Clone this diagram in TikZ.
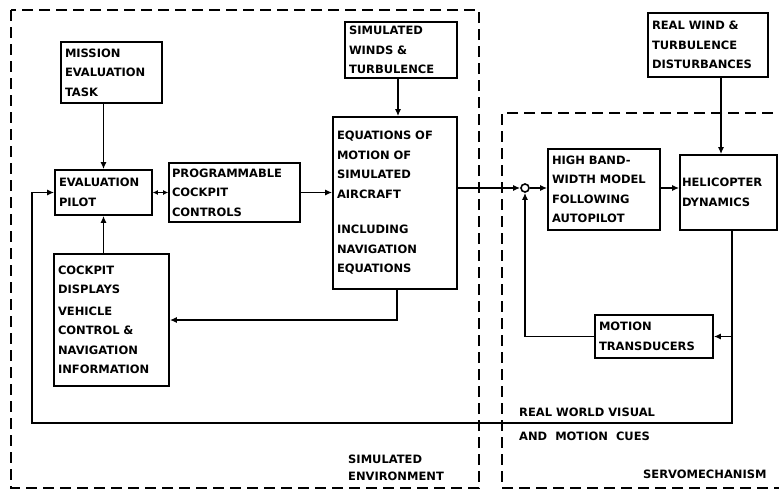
\documentclass[tikz,border=0pt]{standalone}
\usepackage{fontspec}
\newfontfamily\blkfont{DejaVu Sans}
\usetikzlibrary{arrows.meta}
\begin{document}
\begin{tikzpicture}[x=1pt,y=-1pt]
	\tikzstyle{blk}=[draw,line width=1.7pt,inner sep=4pt,align=left,font=\fontsize{11.5}{19.5}\selectfont\blkfont\bfseries]
	\tikzstyle{lbl}=[inner sep=0pt,anchor=north west,align=left,font=\fontsize{11.5}{19.5}\selectfont\blkfont\bfseries]
	\tikzstyle{arr}=[line width=1.6pt,-{Latex[length=7pt,width=6pt]}]
	\tikzstyle{zone}=[line width=1.6pt,dash pattern=on 11pt off 6pt]
	\useasboundingbox (0,0) rectangle (779,490);
	\draw[zone] (11,10) rectangle (479,488);
	\draw[zone] (790,113) -- (502,113) -- (502,488) -- (790,488);
	\node[blk,text width=93pt,minimum height=61pt] (mission) at (111.5,72.5) {MISSION\\EVALUATION\\TASK};
	\node[blk,text width=89pt,minimum height=45pt] (pilot) at (103.5,192.5) {EVALUATION\\ PILOT};
	\node[blk,text width=125pt,minimum height=59pt,inner sep=3pt] (prog) at (234.5,192.5) {PROGRAMMABLE\\COCKPIT\\CONTROLS};
	\node[blk,text width=104pt,minimum height=56pt] (winds) at (401,50) {SIMULATED\\WINDS \& \\TURBULENCE};
	\node[blk,text width=116pt,minimum height=172pt] (eqns) at (395,203) {EQUATIONS OF\\MOTION OF\\SIMULATED\\AIRCRAFT\\[16pt]INCLUDING\\NAVIGATION\\EQUATIONS};
	\node[blk,text width=107pt,minimum height=132pt] (displays) at (111.5,320) {COCKPIT\\DISPLAYS\\[2pt] VEHICLE\\CONTROL \&\\NAVIGATION\\INFORMATION};
	\node[blk,text width=112pt,minimum height=64pt] (realwind) at (708,45) {REAL WIND \&\\TURBULENCE\\DISTURBANCES};
	\node[blk,text width=104pt,minimum height=81pt] (hiband) at (604,189.5) {HIGH BAND-\\WIDTH MODEL\\FOLLOWING\\AUTOPILOT};
	\node[blk,text width=93pt,minimum height=75pt,inner sep=2pt] (heli) at (728.5,192.5) {HELICOPTER\\DYNAMICS};
	\node[blk,text width=110pt,minimum height=43pt] (trans) at (654,336.5) {MOTION\\TRANSDUCERS};
	\node[draw,circle,line width=1.6pt,inner sep=0pt,minimum size=8pt] (sum) at (525,188) {};
	\coordinate (fbR) at (732,423);
	\coordinate (fbL) at (32,423);
	\draw[arr] (pilot.north |- mission.south) -- (pilot.north);
	\draw[arr] (pilot.south |- displays.north) -- (pilot.south);
	\draw[line width=1.6pt,{Latex[length=5pt,width=5pt]}-{Latex[length=5pt,width=5pt]}] (pilot.east) -- (prog.west);
	\draw[arr] (prog.east) -- (prog.east -| eqns.west);
	\draw[arr] (winds.south -| 398,0) -- (eqns.north -| 398,0);
	\draw[arr] (eqns.east |- sum) -- (sum.west);
	\draw[arr] (sum.east) -- (sum -| hiband.west);
	\draw[arr] (hiband.east |- sum) -- (heli.west |- sum);
	\draw[arr] ([xshift=13pt]realwind.south) -- ([xshift=13pt]realwind.south |- heli.north);
	\draw[arr] (heli.south -| fbR) -- (fbR) -- (fbL) |- (pilot.west);
	\draw[arr] (fbR |- trans.east) -- (trans.east);
	\draw[arr] (trans.west) -| (sum.south);
	\draw[arr] ([xshift=2pt]eqns.south) |- (displays.east);
	\node[lbl] (cues) at (519,408) {REAL WORLD VISUAL\\[4pt]AND \ MOTION \ CUES};
	\node[lbl] (simenv) at (348,455) {SIMULATED\\[-3pt]ENVIRONMENT};
	\node[lbl] (servo) at (643,470) {SERVOMECHANISM};
\end{tikzpicture}
\end{document}
